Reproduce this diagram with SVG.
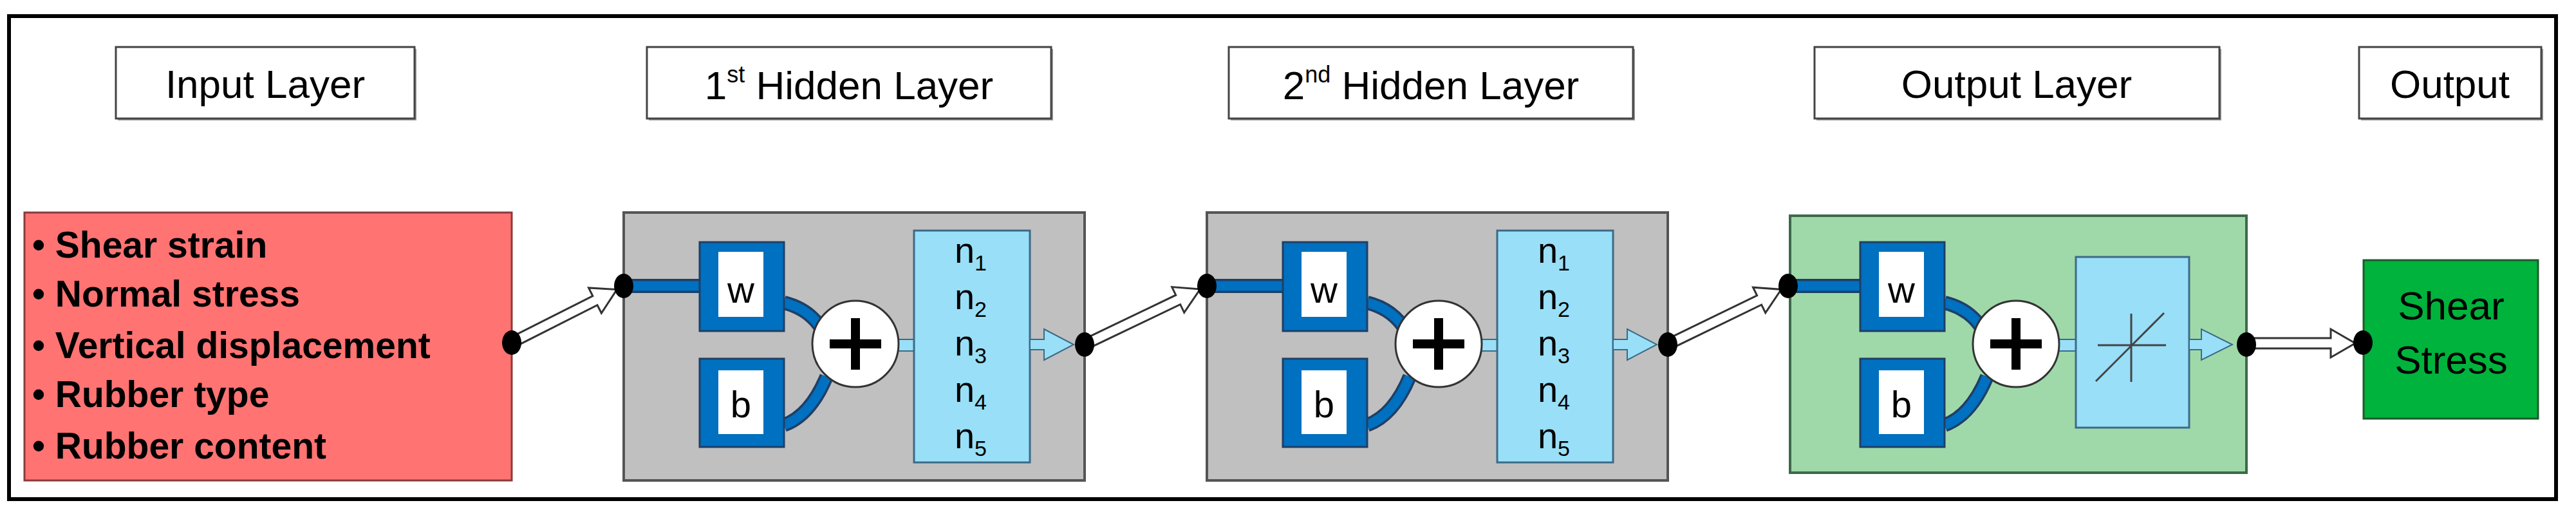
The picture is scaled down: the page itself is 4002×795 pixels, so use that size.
<svg xmlns="http://www.w3.org/2000/svg" width="4002" height="795" viewBox="0 0 4002 795">
<style>
.t{font-family:"Liberation Sans",Arial,sans-serif;fill:#000}
.title{fill:#fff;stroke:#444;stroke-width:3}
.shadow{fill:#999}
.gray{fill:#c0c0c0;stroke:#555;stroke-width:4}
.blue{fill:#0070c0;stroke:#1f3f66;stroke-width:3}
.wh{fill:#fff}
.nb{fill:#99dff8;stroke:#3d6a86;stroke-width:3}
.dot{fill:#000}
.hollow{fill:#fff;stroke:#333;stroke-width:3}
.cu1{fill:none;stroke:#1f3f66;stroke-width:22}
.cu2{fill:none;stroke:#0070c0;stroke-width:15}
.la{fill:#99dff8;stroke:#3d6a86;stroke-width:2}
</style>
<defs>
<g id="neuron">
  <path class="cu1" d="M0,444 H130"/><path class="cu2" d="M0,444 H130"/>
  <path class="cu1" d="M249,470 Q290,480 310,515"/><path class="cu2" d="M249,470 Q290,480 310,515"/>
  <path class="cu1" d="M249,660 Q290,645 315,585"/><path class="cu2" d="M249,660 Q290,645 315,585"/>
  <rect class="blue" x="118" y="376" width="131" height="138"/>
  <rect class="wh" x="147" y="391" width="70" height="101"/>
  <text class="t" x="182" y="470" font-size="58" text-anchor="middle">w</text>
  <rect class="blue" x="118" y="557" width="131" height="137"/>
  <rect class="wh" x="147" y="575" width="70" height="99"/>
  <text class="t" x="182" y="648" font-size="58" text-anchor="middle">b</text>
  <rect class="la" x="420" y="527" width="40" height="18"/>
  <circle cx="360" cy="534" r="67" fill="#fff" stroke="#333" stroke-width="3"/>
  <rect x="320" y="527" width="80" height="14" fill="#000"/>
  <rect x="353" y="494" width="14" height="80" fill="#000"/>
</g>
</defs>
<rect x="14" y="25" width="3957" height="750" fill="#fff" stroke="#000" stroke-width="6"/>

<g id="titles">
  <rect class="shadow" x="183" y="76" width="464" height="111"/>
  <rect class="title" x="180" y="73" width="464" height="111"/>
  <text class="t" x="412" y="152" font-size="62" text-anchor="middle">Input Layer</text>
  <rect class="shadow" x="1008" y="76" width="628" height="111"/>
  <rect class="title" x="1005" y="73" width="628" height="111"/>
  <text class="t" x="1319" y="154" font-size="62" text-anchor="middle">1<tspan font-size="36" dy="-26">st</tspan><tspan dy="26"> Hidden Layer</tspan></text>
  <rect class="shadow" x="1912" y="76" width="628" height="111"/>
  <rect class="title" x="1909" y="73" width="628" height="111"/>
  <text class="t" x="2223" y="154" font-size="62" text-anchor="middle">2<tspan font-size="36" dy="-26">nd</tspan><tspan dy="26"> Hidden Layer</tspan></text>
  <rect class="shadow" x="2822" y="76" width="629" height="111"/>
  <rect class="title" x="2819" y="73" width="629" height="111"/>
  <text class="t" x="3133" y="152" font-size="62" text-anchor="middle">Output Layer</text>
  <rect class="shadow" x="3668" y="76" width="283" height="111"/>
  <rect class="title" x="3665" y="73" width="283" height="111"/>
  <text class="t" x="3806" y="152" font-size="62" text-anchor="middle">Output</text>
</g>

<g id="input">
  <rect x="38" y="330" width="757" height="416" fill="#ff7373" stroke="#8a3a3a" stroke-width="3"/>
  <g class="t" font-size="57" font-weight="bold">
    <text x="50" y="400">• Shear strain</text>
    <text x="50" y="476">• Normal stress</text>
    <text x="50" y="556">• Vertical displacement</text>
    <text x="50" y="632">• Rubber type</text>
    <text x="50" y="712">• Rubber content</text>
  </g>
</g>

<g id="hidden1">
  <rect class="gray" x="969" y="330" width="716" height="416"/>
  <use href="#neuron" x="969"/>
  <rect class="nb" x="1420" y="358" width="180" height="360"/>
  <g class="t" font-size="56" text-anchor="middle">
    <text x="1508" y="408">n<tspan font-size="34" dy="12">1</tspan></text>
    <text x="1508" y="480">n<tspan font-size="34" dy="12">2</tspan></text>
    <text x="1508" y="552">n<tspan font-size="34" dy="12">3</tspan></text>
    <text x="1508" y="624">n<tspan font-size="34" dy="12">4</tspan></text>
    <text x="1508" y="696">n<tspan font-size="34" dy="12">5</tspan></text>
  </g>
  <path class="la" d="M1600,527 H1622 V511 L1668,535 L1622,559 V543 H1600 Z"/>
</g>

<g id="hidden2">
  <rect class="gray" x="1875" y="330" width="716" height="416"/>
  <use href="#neuron" x="1875"/>
  <rect class="nb" x="2326" y="358" width="180" height="360"/>
  <g class="t" font-size="56" text-anchor="middle">
    <text x="2414" y="408">n<tspan font-size="34" dy="12">1</tspan></text>
    <text x="2414" y="480">n<tspan font-size="34" dy="12">2</tspan></text>
    <text x="2414" y="552">n<tspan font-size="34" dy="12">3</tspan></text>
    <text x="2414" y="624">n<tspan font-size="34" dy="12">4</tspan></text>
    <text x="2414" y="696">n<tspan font-size="34" dy="12">5</tspan></text>
  </g>
  <path class="la" d="M2506,527 H2528 V511 L2574,535 L2528,559 V543 H2506 Z"/>
</g>

<g id="outputlayer">
  <rect x="2781" y="335" width="709" height="399" fill="#9fd9a9" stroke="#3d6a4a" stroke-width="4"/>
  <use href="#neuron" x="2772"/>
  <rect class="nb" x="3225" y="399" width="176" height="265"/>
  <g stroke="#444" stroke-width="3">
    <line x1="3259" y1="536" x2="3365" y2="536"/>
    <line x1="3311" y1="487" x2="3311" y2="593"/>
    <line x1="3256" y1="592" x2="3362" y2="486"/>
  </g>
  <path class="la" d="M3401,527 H3420 V511 L3468,535 L3420,559 V543 H3401 Z"/>
</g>

<g id="output">
  <rect x="3672" y="404" width="271" height="246" fill="#00b33c" stroke="#1d5a2d" stroke-width="3"/>
  <text class="t" x="3808" y="496" font-size="62" text-anchor="middle">Shear</text>
  <text class="t" x="3808" y="580" font-size="62" text-anchor="middle">Stress</text>
</g>

<g id="connectors">
  <path class="hollow" transform="translate(795,532) rotate(-26.8)" d="M0,-8 H145 V-22 L183,0 L145,22 V8 H0 Z"/>
  <path class="hollow" transform="translate(1685,535) rotate(-25.6)" d="M0,-8 H161 V-22 L199,0 L161,22 V8 H0 Z"/>
  <path class="hollow" transform="translate(2591,535) rotate(-25.9)" d="M0,-8 H158 V-22 L196,0 L158,22 V8 H0 Z"/>
  <path class="hollow" transform="translate(3490,533)" d="M0,-8 H131 V-22 L169,0 L131,22 V8 H0 Z"/>
  <ellipse class="dot" cx="795" cy="532" rx="15" ry="19"/>
  <ellipse class="dot" cx="969" cy="444" rx="15" ry="19"/>
  <ellipse class="dot" cx="1685" cy="535" rx="15" ry="19"/>
  <ellipse class="dot" cx="1875" cy="444" rx="15" ry="19"/>
  <ellipse class="dot" cx="2591" cy="535" rx="15" ry="19"/>
  <ellipse class="dot" cx="2778" cy="444" rx="15" ry="19"/>
  <ellipse class="dot" cx="3490" cy="535" rx="15" ry="19"/>
  <ellipse class="dot" cx="3671" cy="532" rx="15" ry="19"/>
</g>
</svg>
